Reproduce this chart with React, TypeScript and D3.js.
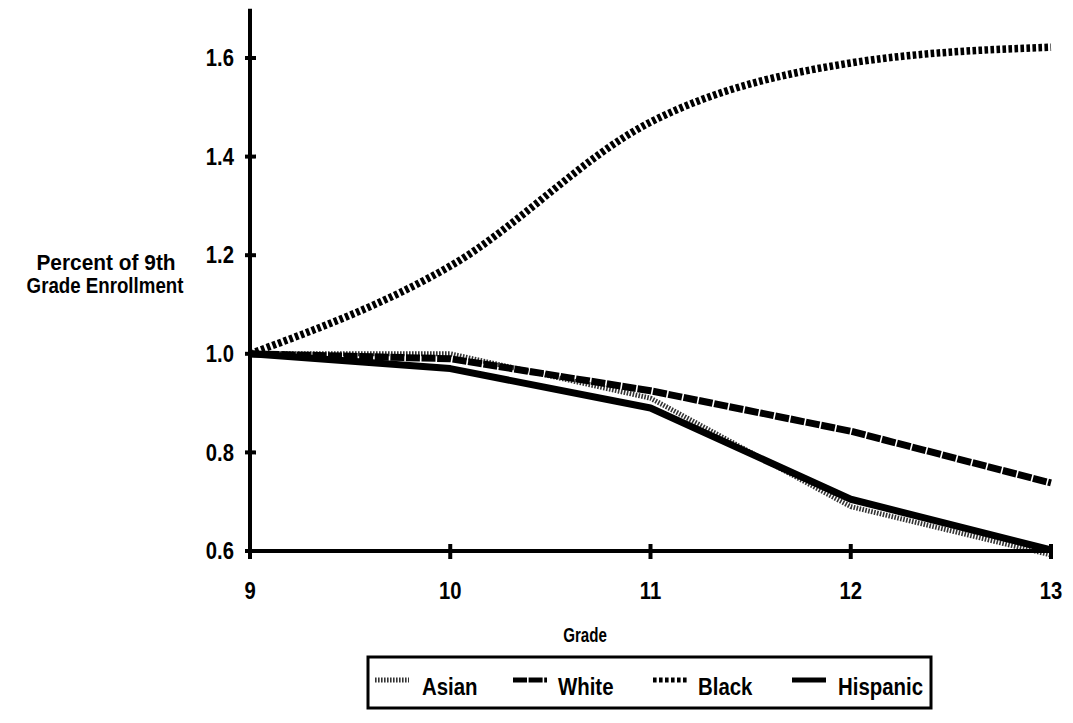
import React from "react";
import * as d3 from "d3";

const grades = [9, 10, 11, 12, 13];
const yTicks = [0.6, 0.8, 1.0, 1.2, 1.4, 1.6];
const yTickLabels = ["0.6", "0.8", "1.0", "1.2", "1.4", "1.6"];
const seriesNames = ["Asian", "White", "Black", "Hispanic"];
const asian = [1.0, 1.0, 0.91, 0.69, 0.592];
const white = [1.0, 0.99, 0.925, 0.843, 0.738];
const black = [1.0, 1.178, 1.47, 1.59, 1.622];
const hispanic = [1.0, 0.97, 0.89, 0.705, 0.602];

const W = 1073;
const H = 723;
const font = "'Liberation Sans', Arial, Helvetica, sans-serif";

type Style = { dash: string; width: number; color: string; curve: any };
const styles: Record<string, Style> = {
  Asian: { dash: "1.6,1.4", width: 5, color: "#333", curve: d3.curveLinear },
  White: { dash: "14,1.6", width: 7, color: "#000", curve: d3.curveLinear },
  Black: { dash: "3.6,2.4", width: 7.5, color: "#000", curve: d3.curveMonotoneX },
  Hispanic: { dash: "none", width: 7, color: "#000", curve: d3.curveLinear },
};
const seriesData: Record<string, number[]> = { Asian: asian, White: white, Black: black, Hispanic: hispanic };

function T({
  x,
  y,
  size,
  sx,
  anchor = "start",
  children,
}: {
  x: number;
  y: number;
  size: number;
  sx: number;
  anchor?: string;
  children: React.ReactNode;
}) {
  return (
    <text
      transform={`translate(${x},${y}) scale(${sx},1)`}
      dy="0.36em"
      textAnchor={anchor}
      fontFamily={font}
      fontWeight="bold"
      fontSize={size}
      fill="#000"
    >
      {children}
    </text>
  );
}

export default function App() {
  const x = d3.scaleLinear().domain([9, 13]).range([250, 1051]);
  const y = d3.scaleLinear().domain([0.6, 1.6]).range([551, 58]);
  const axisY = y(0.6);

  const line = (vals: number[], curve: any) =>
    d3
      .line<number>()
      .x((_, i) => x(grades[i]))
      .y((v) => y(v))
      .curve(curve)(vals) as string;

  const legendItems = [
    { name: seriesNames[0], x0: 375, tx: 422 },
    { name: seriesNames[1], x0: 513, tx: 558 },
    { name: seriesNames[2], x0: 653, tx: 698 },
    { name: seriesNames[3], x0: 792, tx: 838 },
  ];

  return (
    <svg width={W} height={H} style={{ position: "absolute", left: 0, top: 0, background: "#fff" }}>
      {/* series */}
      {seriesNames.map((name) => {
        const s = styles[name];
        return (
          <path
            key={name}
            d={line(seriesData[name], s.curve)}
            fill="none"
            stroke={s.color}
            strokeWidth={s.width}
            strokeDasharray={s.dash}
            strokeLinejoin="round"
          />
        );
      })}

      {/* y axis */}
      <line x1={x(9)} x2={x(9)} y1={y(1.7)} y2={axisY + 2} stroke="#000" strokeWidth={4} />
      {yTicks.map((t, i) => (
        <g key={t}>
          <line x1={x(9) - 5} x2={x(9) + 6} y1={y(t)} y2={y(t)} stroke="#000" strokeWidth={4} />
          <T x={x(9) - 16} y={y(t)} size={23} sx={0.88} anchor="end">
            {yTickLabels[i]}
          </T>
        </g>
      ))}

      {/* x axis */}
      <line x1={x(9) - 2} x2={x(13)} y1={axisY} y2={axisY} stroke="#000" strokeWidth={4} />
      {grades.map((g) => (
        <g key={g}>
          <line x1={x(g)} x2={x(g)} y1={axisY - 7} y2={axisY + 8} stroke="#000" strokeWidth={4} />
          <T x={x(g)} y={axisY + 40} size={23} sx={0.88} anchor="middle">
            {g}
          </T>
        </g>
      ))}

      {/* axis titles */}
      <T x={585} y={634} size={21} sx={0.72} anchor="middle">
        Grade
      </T>
      <T x={106} y={262} size={22} sx={0.95} anchor="middle">
        Percent of 9th
      </T>
      <T x={105} y={285} size={22} sx={0.85} anchor="middle">
        Grade Enrollment
      </T>

      {/* legend */}
      <rect x={368} y={657} width={563} height={51} fill="none" stroke="#000" strokeWidth={3} />
      {legendItems.map((it) => {
        const s = styles[it.name];
        return (
          <g key={it.name}>
            <line
              x1={it.x0}
              x2={it.x0 + 34}
              y1={680}
              y2={680}
              stroke={s.color}
              strokeWidth={Math.min(s.width, 5)}
              strokeDasharray={s.dash}
            />
            <T x={it.tx} y={686} size={24} sx={0.85}>
              {it.name}
            </T>
          </g>
        );
      })}
    </svg>
  );
}
